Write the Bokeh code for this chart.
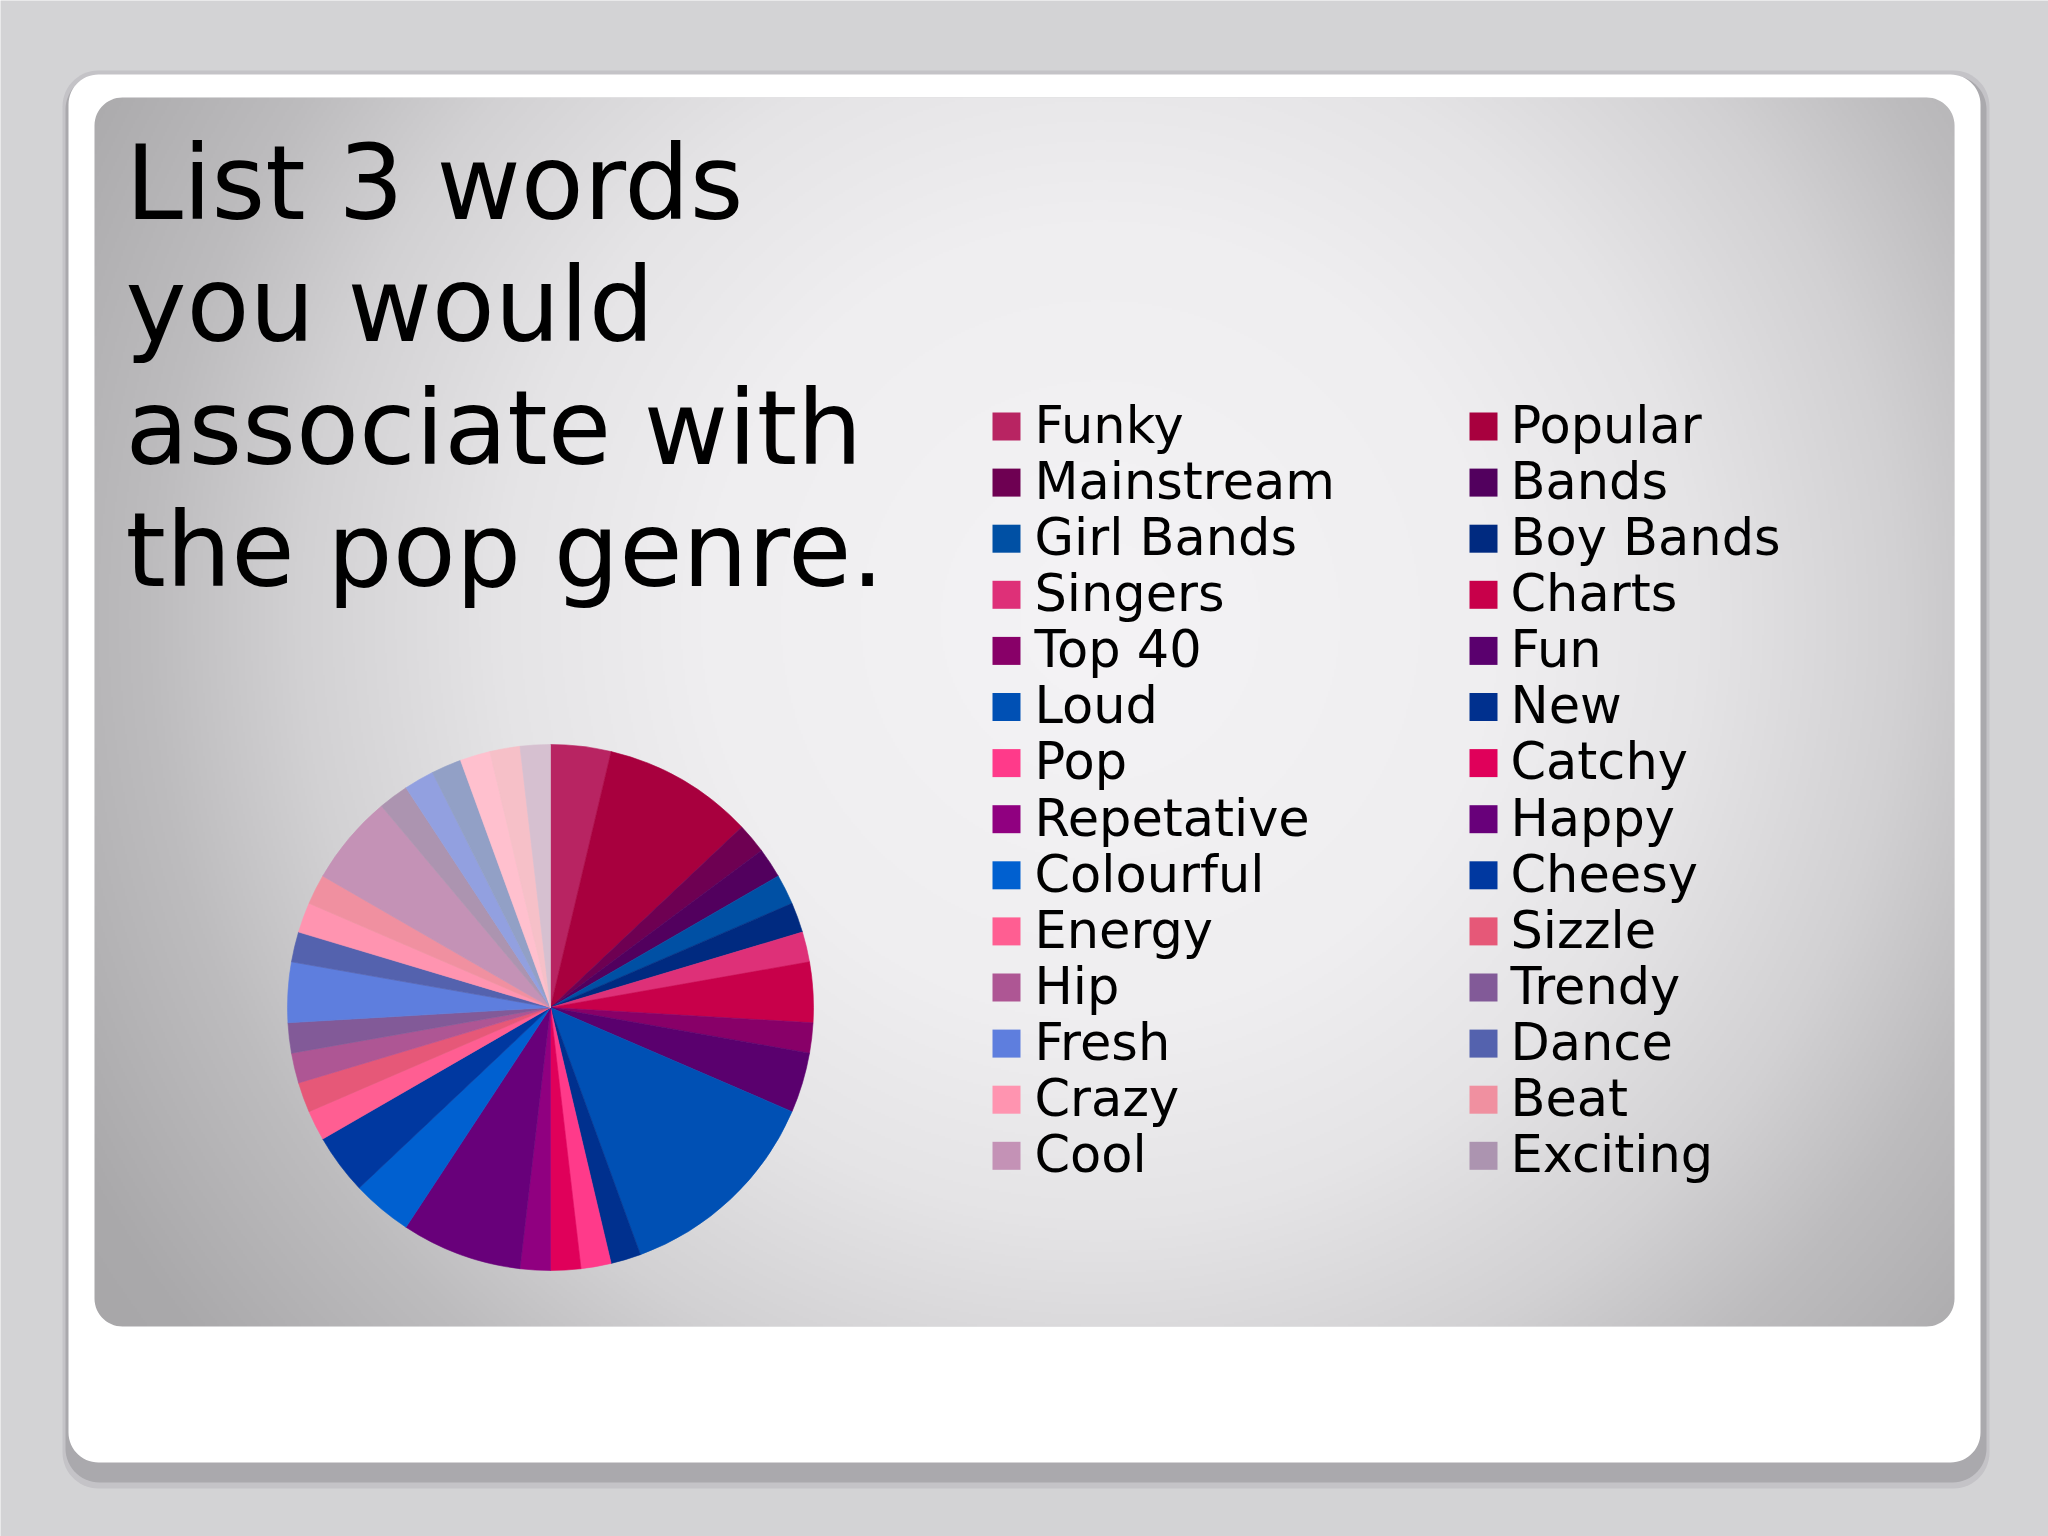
import numpy as np
from bokeh.plotting import figure
from bokeh.models import Range1d, ColumnDataSource
from bokeh.core.properties import value
from bokeh.embed import file_html
from bokeh.resources import INLINE

# ---------------- data ----------------
title_lines = ["List 3 words", "you would", "associate with", "the pop genre."]

categories = ["Funky", "Popular", "Mainstream", "Bands", "Girl Bands", "Boy Bands",
              "Singers", "Charts", "Top 40", "Fun", "Loud", "New", "Pop", "Catchy",
              "Repetative", "Happy", "Colourful", "Cheesy", "Energy", "Sizzle",
              "Hip", "Trendy", "Fresh", "Dance", "Crazy", "Beat", "Cool", "Exciting",
              "Other 1", "Other 2", "Other 3", "Other 4", "Other 5"]
counts = [2, 5, 1, 1, 1, 1, 1, 2, 1, 2, 7, 1, 1, 1,
          1, 4, 2, 2, 1, 1, 1, 1, 2, 1, 1, 1, 3, 1,
          1, 1, 1, 1, 1]
colors = ["#B82462", "#A8003E", "#6E0052", "#52005E", "#0050A4", "#002A80",
          "#DE3078", "#C8004A", "#880068", "#5A006E", "#0050B4", "#00308E",
          "#FF3A8A", "#E0005A", "#900080", "#68007A", "#0060D0", "#0038A0",
          "#FF5E92", "#E65878", "#AE5694", "#825A98", "#5E7EDE", "#5462AE",
          "#FF94B0", "#F090A0", "#C492B6", "#AC94B0",
          "#92A0E0", "#92A0C6", "#FFC0CE", "#F6C0C8", "#D6C0D0"]
legend_count = 28   # entries shown in the legend (the rest did not fit)

# ---------------- canvas ----------------
W, H = 2048, 1536


def fx(X):
    return X


def fy(Y):
    return H - Y


p = figure(width=W, height=H, x_range=Range1d(0, W), y_range=Range1d(0, H),
           output_backend="svg", toolbar_location=None,
           x_axis_location=None, y_axis_location=None, min_border=0)
p.outline_line_color = None
p.background_fill_color = "#D3D3D5"
p.border_fill_color = "#D3D3D5"
p.xgrid.visible = False
p.ygrid.visible = False


def rrect(x0, y0, x1, y1, r, n=16):
    xs, ys = [], []
    corners = [(x1 - r, y0 + r, -90, 0), (x1 - r, y1 - r, 0, 90),
               (x0 + r, y1 - r, 90, 180), (x0 + r, y0 + r, 180, 270)]
    for cx, cy, a0, a1 in corners:
        for t in np.linspace(np.radians(a0), np.radians(a1), n):
            xs.append(fx(cx + r * np.cos(t)))
            ys.append(fy(cy + r * np.sin(t)))
    return xs, ys


# shadow
sx, sy = rrect(62, 70, 1989, 1488, 36)
p.patch(sx, sy, fill_color="#C4C3C7", line_color=None)
sx, sy = rrect(65, 75, 1986, 1482, 34)
p.patch(sx, sy, fill_color="#AAA9AD", line_color=None)

# gradient panel (image)
PX0, PY0, PX1, PY1 = 94, 97, 1954, 1326
gw, gh = (PX1 - PX0) // 2, (PY1 - PY0) // 2
jj = np.arange(gw)
ii = np.arange(gh)
XX = PX0 + (jj[None, :] + 0.5) * (PX1 - PX0) / gw
YY = PY0 + (ii[:, None] + 0.5) * (PY1 - PY0) / gh
d = np.hypot(XX - 1100, YY - 620)
v = np.interp(d, [0, 400, 600, 800, 950, 1150, 1400], [244, 239, 229, 210, 189, 170, 163])
r_ = np.clip(v, 0, 255).astype(np.uint32)
g_ = np.clip(v - 1, 0, 255).astype(np.uint32)
b_ = np.clip(v + 1, 0, 255).astype(np.uint32)
img = (255 << 24) | (b_ << 16) | (g_ << 8) | r_
img = np.flipud(img).astype(np.uint32)
p.image_rgba(image=[img], x=fx(PX0), y=fy(PY1), dw=PX1 - PX0, dh=PY1 - PY0)

# white card with hole
ox, oy = rrect(68, 74, 1980, 1462, 30)
ix, iy = rrect(PX0, PY0, PX1, PY1, 28)
p.multi_polygons(xs=[[[ox, ix]]], ys=[[[oy, iy]]], fill_color="#FFFFFF", line_color=None)

# ---------------- pie ----------------
vals = np.array(counts, dtype=float)
total = vals.sum()
cum = np.concatenate([[0], np.cumsum(vals)])
start = np.pi / 2 - cum[:-1] / total * 2 * np.pi
end = np.pi / 2 - cum[1:] / total * 2 * np.pi
pie_src = ColumnDataSource(dict(cat=categories, count=counts, color=colors,
                                start=start, end=end))
p.wedge(x=fx(550), y=fy(1007), radius=263, start_angle="start", end_angle="end",
        direction="clock", fill_color="color", line_color="color", line_width=0.6,
        source=pie_src)

# ---------------- legend ----------------
LFS = 51
lx_sq = [1006, 1483]
lx_tx = [1034, 1510]
row0 = 443
row_h = 56.1
leg = dict(sq_x=[], sq_y=[], tx_x=[], tx_y=[], label=[], color=[])
for k in range(legend_count):
    col = k % 2
    row = k // 2
    base = row0 + row * row_h
    leg["sq_x"].append(fx(lx_sq[col]))
    leg["sq_y"].append(fy(base - 17))
    leg["tx_x"].append(fx(lx_tx[col]))
    leg["tx_y"].append(fy(base - 0.355 * LFS))
    leg["label"].append(categories[k])
    leg["color"].append(colors[k])
leg_src = ColumnDataSource(leg)
p.rect(x="sq_x", y="sq_y", width=28, height=28, fill_color="color", line_color=None,
       source=leg_src)
p.text(x="tx_x", y="tx_y", text="label", text_font=value("DejaVu Sans"),
       text_font_size=f"{LFS}px", text_color="#000000", text_baseline="alphabetic",
       text_align="left", source=leg_src)

# ---------------- title ----------------
TFS = 103
title_src = ColumnDataSource(dict(x=[fx(125)] * 4,
                                  y=[fy(219 + 122.5 * i - 0.355 * TFS) for i in range(4)],
                                  t=title_lines))
p.text(x="x", y="y", text="t", text_font=value("DejaVu Sans"), text_font_size=f"{TFS}px",
       text_color="#000000", text_baseline="alphabetic", text_align="left",
       source=title_src)

open("out.html", "w").write(file_html(p, INLINE))
